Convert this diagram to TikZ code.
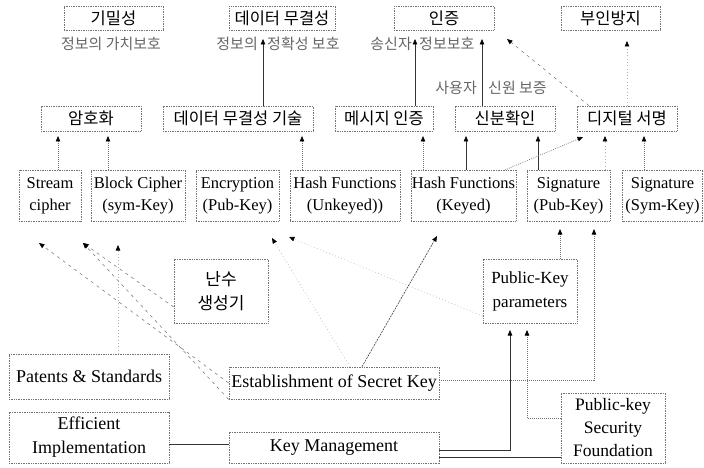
\documentclass[tikz,border=0pt]{standalone}
\usepackage{fontspec}
\setmainfont{Liberation Serif}
\newfontfamily\kr{Noto Sans CJK KR}
\usetikzlibrary{arrows.meta,calc}
\begin{document}
\begin{tikzpicture}[x=1pt,y=-1pt,
 bx/.style={draw=black!55, dash pattern=on 1pt off 0.7pt, line width=0.7pt, inner sep=0pt, align=center, text=black},
 kb/.style={bx, font=\kr\fontsize{16.5}{19}\selectfont},
 eb/.style={bx, font=\fontsize{16.5}{22}\selectfont},
 el/.style={bx, font=\fontsize{18}{24}\selectfont},
 sub/.style={inner sep=0pt, text=black!60, font=\kr\fontsize{15}{17}\selectfont},
 tip/.style={-{Triangle[length=5.5pt,width=4.5pt,color=black]}},
 sol/.style={draw=black!80, line width=0.6pt},
 dt/.style={draw=black!55, line width=0.7pt, dash pattern=on 0.8pt off 1.2pt},
 ft/.style={draw=black!30, line width=0.6pt, dash pattern=on 0.8pt off 2.5pt},
 dsh/.style={draw=black!50, line width=0.6pt, dash pattern=on 3pt off 4pt},
 dd/.style={draw=black!75, line width=0.6pt, dash pattern=on 2pt off 1pt},
]
\useasboundingbox (0,0) rectangle (704,468);

% top row
\node[kb, minimum width=99pt, minimum height=24pt] (conf) at (113.5,18) {기밀성};
\node[kb, minimum width=106pt, minimum height=24pt] (integ) at (282,18) {데이터 무결성};
\node[kb, minimum width=100pt, minimum height=24pt] (auth) at (444,18) {인증};
\node[kb, minimum width=99pt, minimum height=24pt] (nonrep) at (610.5,18) {부인방지};

% subtitles
\node[sub] (s1) at (111,44) {정보의 가치보호};
\node[sub, anchor=east] (s2a) at (258,44) {정보의};
\node[sub, anchor=west] (s2b) at (267,44) {정확성 보호};
\node[sub, anchor=east] (s3a) at (412,44) {송신자};
\node[sub, anchor=west] (s3b) at (419,44) {정보보호};
\node[sub, anchor=east] (s4a) at (477,88) {사용자};
\node[sub, anchor=west] (s4b) at (488,88) {신원 보증};

% second row
\node[kb, minimum width=100pt, minimum height=25pt] (enc) at (91,118.5) {암호화};
\node[kb, minimum width=150pt, minimum height=25pt] (dit) at (238,118.5) {데이터 무결성 기술};
\node[kb, minimum width=98pt, minimum height=25pt] (msg) at (384,118.5) {메시지 인증};
\node[kb, minimum width=100pt, minimum height=25pt] (ident) at (505,118.5) {신분확인};
\node[kb, minimum width=100pt, minimum height=25pt] (dsig) at (627,118.5) {디지털 서명};

% third row
\node[eb, minimum width=62pt, minimum height=51pt] (stream) at (50,195.5) {Stream\\cipher};
\node[eb, minimum width=94pt, minimum height=51pt] (block) at (138,195.5) {Block Cipher\\(sym-Key)};
\node[eb, minimum width=83pt, minimum height=51pt] (pkenc) at (237.5,195.5) {Encryption\\(Pub-Key)};
\node[eb, minimum width=110pt, minimum height=51pt] (hashu) at (345,195.5) {Hash Functions\\(Unkeyed))};
\node[eb, minimum width=105pt, minimum height=51pt] (hashk) at (463.5,195.5) {Hash Functions\\(Keyed)};
\node[eb, minimum width=83pt, minimum height=51pt] (sigpk) at (568.5,195.5) {Signature\\(Pub-Key)};
\node[eb, minimum width=80pt, minimum height=51pt] (sigsk) at (662.5,195.5) {Signature\\(Sym-Key)};

% lower boxes
\node[bx, font=\kr\fontsize{17}{24}\selectfont, minimum width=94pt, minimum height=64pt] (rng) at (221,291) {난수\\생성기};
\node[bx, font=\fontsize{17}{24}\selectfont, minimum width=94pt, minimum height=64pt] (pkp) at (530,291) {Public-Key\\parameters};
\node[el, minimum width=160pt, minimum height=45pt] (pat) at (89,376.5) {Patents \& Standards};
\node[el, minimum width=210pt, minimum height=32pt] (est) at (334,383) {Establishment of Secret Key};
\node[el, minimum width=160pt, minimum height=51pt] (eff) at (89,437.5) {Efficient\\Implementation};
\node[el, minimum width=210pt, minimum height=31pt] (km) at (334,447.5) {Key Management};
\node[bx, font=\fontsize{17.5}{23}\selectfont, minimum width=104pt, minimum height=70pt] (pksf) at (613,428) {Public-key\\Security\\Foundation};

% arrows to top row
\coordinate (tInteg) at (263,39);
\coordinate (tMsg) at (415,39);
\coordinate (tIdent) at (482,39);
\coordinate (tAuthD) at (507,39);
\coordinate (tNon) at (627,41);
\draw[sol,tip] (dit.north -| tInteg) -- (tInteg);
\draw[sol,tip] (msg.north -| tMsg) -- (tMsg);
\draw[sol,tip] (ident.north -| tIdent) -- (tIdent);
\draw[dsh,tip] ($(dsig.north)+(-38,0)$) -- (tAuthD);
\draw[ft,tip] (dsig.north) -- (tNon);

% arrows to second row
\coordinate (tS) at (58,136);
\coordinate (tB) at (108,136);
\coordinate (tHU) at (302,136);
\coordinate (tHK1) at (423,136);
\coordinate (tHK2) at (466,136);
\coordinate (tSP) at (538,136);
\coordinate (tHKd) at (583,137);
\coordinate (tSP2) at (605,136);
\coordinate (tSS) at (644,136);
\draw[dt,tip] (stream.north -| tS) -- (tS);
\draw[dt,tip] (block.north -| tB) -- (tB);
\draw[dt,tip] (hashu.north -| tHU) -- (tHU);
\draw[dt,tip] (hashk.north -| tHK1) -- (tHK1);
\draw[sol,tip] (hashk.north -| tHK2) -- (tHK2);
\draw[sol,tip] (sigpk.north -| tSP) -- (tSP);
\draw[dt,tip] ($(hashk.north east)+(-13,1)$) -- (tHKd);
\draw[ft,tip] (sigpk.north -| tSP2) -- (tSP2);
\draw[dt,tip] (sigsk.north -| tSS) -- (tSS);

% arrows to third row
\coordinate (tStr) at (39,243);
\coordinate (tBlk) at (83,243);
\coordinate (tBlk2) at (118,245);
\coordinate (tEnc) at (272,238);
\coordinate (tEnc2) at (289,237);
\coordinate (tHKe) at (437,236);
\coordinate (tSig1) at (560,229);
\coordinate (tSig2) at (594,229);
\draw[dsh,tip] (est.west) -- (tStr);
\draw[dsh,tip] (est.south west) -- (tBlk);
\draw[dsh,tip] ($(rng.west)+(0,16)$) -- (tBlk);
\draw[ft,tip] (pat.north -| tBlk2) -- (tBlk2);
\draw[ft,tip] ($(est.north)+(16,0)$) -- (tEnc);
\draw[ft,tip] ($(pkp.west)+(0,25)$) -- (tEnc2);
\draw[dd,tip] ($(est.north)+(28,0)$) -- (tHKe);
\draw[dt,tip] (pkp.north -| tSig1) -- (tSig1);
\draw[dt,tip] ($(est.east)+(0,-3)$) -| (tSig2);

% arrows to public-key parameters
\coordinate (tPK1) at (510,330);
\coordinate (tPK2) at (527,330);
\draw[sol,tip] ($(km.east)+(0,2.5)$) -| (tPK1);
\draw[dt,tip] ($(pksf.west)+(0,-10)$) -| (tPK2);
\draw[sol] ($(km.east)+(0,9.5)$) coordinate (kq) -- (kq -| pksf.west);
\draw[sol] ($(eff.east)+(0,6.5)$) coordinate (eq) -- (eq -| km.west);
\end{tikzpicture}
\end{document}
